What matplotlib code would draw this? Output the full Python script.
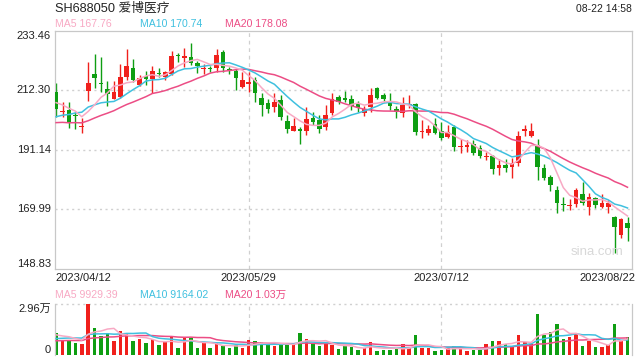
import matplotlib
matplotlib.use("Agg")
import matplotlib.pyplot as plt
import numpy as np
import pandas as pd

# ---------------- data ----------------
dates = ["2023/04/12", "2023/05/29", "2023/07/12", "2023/08/22"]
date_idx = [0, 30, 60, 89]

opens = [211.7, 204.5, 205.2, 203.5, 199.0, 211.9, 218.0, 214.7, 212.7, 209.2,
         209.8, 216.8, 220.1, 214.1, 217.3, 216.2, 218.3, 217.0, 218.1, 224.7,
         223.7, 223.9, 222.0, 219.7, 220.1, 220.2, 225.9, 219.9, 219.1, 213.5,
         214.5, 215.9, 209.3, 207.8, 206.2, 208.7, 201.4, 197.8, 198.3, 197.8,
         202.4, 201.6, 199.0, 204.0, 209.9, 209.5, 209.0, 207.2, 204.0, 206.2,
         212.9, 210.5, 208.2, 205.7, 204.0, 206.8, 207.3, 197.4, 197.1, 200.2,
         197.8, 195.7, 199.3, 191.9, 192.2, 193.1, 191.6, 188.6, 188.8, 184.4,
         185.6, 185.0, 186.5, 197.9, 196.0, 192.7, 184.5, 181.2, 176.7, 171.9,
         170.9, 171.8, 175.3, 170.6, 173.8, 170.6, 170.8, 167.2, 160.7, 165.1]
highs = [214.9, 208.1, 208.1, 204.6, 202.3, 222.2, 225.1, 224.0, 215.5, 215.5,
         221.7, 226.8, 223.3, 217.5, 219.1, 220.7, 220.0, 219.0, 226.3, 225.6,
         227.1, 229.1, 222.6, 221.4, 221.0, 226.8, 226.6, 220.6, 219.7, 218.8,
         218.8, 216.8, 211.1, 209.0, 211.1, 210.5, 203.4, 202.3, 199.3, 206.4,
         204.6, 203.4, 207.0, 211.1, 210.5, 212.1, 210.5, 208.5, 206.6, 212.9,
         213.2, 211.1, 211.1, 206.5, 209.7, 210.5, 207.8, 201.6, 199.9, 202.3,
         200.8, 199.9, 199.9, 194.8, 194.5, 194.5, 192.8, 190.4, 189.2, 187.7,
         187.7, 188.0, 197.8, 199.9, 200.7, 194.8, 186.0, 182.0, 178.2, 174.4,
         173.5, 177.4, 179.6, 175.6, 174.1, 175.3, 173.2, 167.5, 166.7, 167.0]
lows = [202.6, 202.8, 198.9, 198.4, 196.9, 208.5, 213.1, 211.5, 206.7, 209.0,
        209.5, 215.9, 215.3, 213.8, 214.1, 211.1, 217.0, 216.0, 217.6, 222.1,
        220.4, 221.2, 218.2, 218.1, 218.8, 218.8, 218.8, 217.9, 212.3, 213.0,
        211.7, 208.1, 203.1, 204.2, 204.6, 201.6, 196.9, 197.6, 193.1, 196.3,
        199.9, 196.9, 198.1, 203.4, 207.5, 208.1, 205.2, 204.6, 203.1, 204.6,
        209.2, 208.1, 205.2, 202.5, 202.8, 205.8, 196.3, 195.1, 196.3, 196.7,
        194.5, 195.1, 190.7, 190.0, 190.4, 189.2, 188.3, 187.3, 182.4, 182.1,
        183.2, 180.9, 185.3, 195.9, 195.5, 180.3, 180.3, 176.3, 168.5, 169.1,
        169.6, 170.8, 171.4, 167.9, 170.2, 170.2, 168.5, 154.3, 159.6, 158.7]
closes = [205.5, 204.9, 201.0, 203.0, 199.6, 214.9, 216.7, 214.3, 210.9, 211.5,
          216.9, 220.8, 215.9, 216.7, 216.2, 219.1, 217.9, 218.6, 224.4, 224.3,
          224.5, 221.8, 220.9, 220.0, 219.7, 224.7, 220.0, 219.5, 216.7, 215.9,
          215.0, 211.1, 207.0, 205.5, 208.1, 202.8, 198.3, 199.5, 197.9, 201.9,
          201.0, 198.3, 203.4, 209.0, 208.1, 208.6, 206.7, 205.8, 205.4, 210.5,
          209.6, 209.1, 206.6, 204.5, 207.0, 207.2, 197.5, 197.9, 198.3, 197.0,
          195.3, 197.5, 192.1, 192.3, 192.6, 189.8, 188.8, 189.0, 184.1, 185.6,
          184.7, 186.2, 195.9, 198.3, 197.8, 185.0, 181.0, 178.5, 172.0, 171.5,
          171.3, 176.7, 172.2, 174.4, 171.4, 172.2, 172.2, 163.5, 166.3, 163.3]
# closes before the first visible day (only used for the moving averages)
prior_closes = [203.0, 204.0, 202.0, 201.0, 200.0, 197.0, 196.0, 195.0, 194.0, 194.0,
                199.5, 198.5, 197.5, 197.0, 196.5, 208.9, 207.0, 208.0, 209.6]

volumes = [12900, 8700, 8700, 7100, 6400, 29600, 15700, 11200, 12900, 8300,
           13900, 12200, 8300, 9300, 6800, 9100, 6000, 7500, 10600, 4300,
           10200, 10200, 4300, 7100, 4300, 6800, 5200, 4300, 5800, 4300,
           8700, 8100, 7700, 6400, 5200, 6400, 6400, 6400, 12900, 9300,
           6800, 5200, 7700, 5800, 3500, 5200, 4600, 2900, 3900, 7700,
           2500, 2900, 2900, 3500, 6400, 3900, 11600, 3900, 3900, 2300,
           2900, 4100, 5200, 3900, 2300, 2900, 2900, 6400, 8100, 8100,
           6400, 4600, 11600, 7700, 6400, 23800, 11600, 13300, 18000, 9300,
           10400, 12200, 5200, 8100, 4600, 4600, 5800, 18000, 8100, 10400]
prior_volumes = [7000, 7000, 7000, 7000, 7000, 7000, 7000, 7000, 7000, 7000,
                 7000, 7000, 7000, 7000, 9000, 12000, 11000, 12000, 11000]

price_ticks = [148.83, 169.99, 191.14, 212.30, 233.46]
vol_top = 29600
title = "SH688050 爱博医疗"
timestamp = "08-22 14:58"
ma_labels = ["MA5 167.76", "MA10 170.74", "MA20 178.08"]
vol_ma_labels = ["MA5 9929.39", "MA10 9164.02", "MA20 1.03万"]

# ---------------- style ----------------
RED = "#f0201c"
GREEN = "#0e9e12"
C_MA5 = "#f8a9c4"
C_MA10 = "#3fc0df"
C_MA20 = "#ec4d85"
GRID = "#d0d0d0"
TXT = "#222222"
FONT = ["Liberation Sans", "Noto Sans CJK SC", "DejaVu Sans"]
plt.rcParams["font.family"] = FONT
FS = 8.0

n = len(closes)
x = np.arange(n)
o = np.array(opens); h = np.array(highs); l = np.array(lows); c = np.array(closes)
up = c >= o
colors = np.where(up, RED, GREEN)

allc = pd.Series(prior_closes + closes)
ma5 = allc.rolling(5).mean().values[-n:]
ma10 = allc.rolling(10).mean().values[-n:]
ma20 = allc.rolling(20).mean().values[-n:]
allv = pd.Series(prior_volumes + volumes)
vma5 = allv.rolling(5).mean().values[-n:]
vma10 = allv.rolling(10).mean().values[-n:]
vma20 = allv.rolling(20).mean().values[-n:]

W, H = 640, 360
fig = plt.figure(figsize=(6.4, 3.6), dpi=100)
L, R = 55 / W, 632 / W
ax = fig.add_axes([L, 1 - 268.5 / H, R - L, (268.5 - 30.5) / H])
axv = fig.add_axes([L, 1 - 355 / H, R - L, (355 - 304.3) / H])

xlim = (-0.17, n - 1 + 0.7)
for a in (ax, axv):
    a.set_xlim(*xlim)
    a.set_xticks([])
    a.set_yticks([])
    a.set_facecolor("white")
    for i in date_idx[1:3]:
        a.axvline(i, color=GRID, lw=0.9, ls=(0, (3, 3)), zorder=0)

# main pane
ax.set_ylim(price_ticks[0], price_ticks[-1])
for sp in ax.spines.values():
    sp.set_color("#c8c8c8"); sp.set_linewidth(0.9)
for t in price_ticks[1:-1]:
    ax.axhline(t, color=GRID, lw=1.0, ls=(0, (1.5, 2.5)), zorder=0)

ax.vlines(x, l, h, colors=colors, lw=1.0, zorder=2)
body_h = np.maximum(np.abs(c - o), 0.35)
ax.bar(x, body_h, bottom=np.minimum(o, c), width=0.72, color=colors, lw=0, zorder=3)
ax.plot(x, ma20, color=C_MA20, lw=1.1, zorder=4)
ax.plot(x, ma10, color=C_MA10, lw=1.1, zorder=4)
ax.plot(x, ma5, color=C_MA5, lw=1.1, zorder=4)

# y labels main
for k, t in enumerate(price_ticks):
    va = "bottom" if k == 0 else ("top" if k == len(price_ticks) - 1 else "center")
    ax.text(-0.007, t, f"{t:.2f}", transform=ax.get_yaxis_transform(), ha="right",
            va=va, fontsize=FS, color=TXT)

ax.text(0.985, 0.07, "sina.com", transform=ax.transAxes, ha="right", va="center",
        fontsize=9.5, color="#d8d8d8")

# date labels
ypos = 1 - 278 / H
for k, (d, i) in enumerate(zip(dates, date_idx)):
    xf = ax.transData.transform((i, 0))[0] / fig.bbox.width
    if k == 0:
        fig.text(L, ypos, d, ha="left", va="center", fontsize=FS, color=TXT)
    elif k == len(dates) - 1:
        fig.text(R + 3 / W, ypos, d, ha="right", va="center", fontsize=FS, color=TXT)
    else:
        fig.text(xf, ypos, d, ha="center", va="center", fontsize=FS, color=TXT)

# header
fig.text(L, 1 - 8.5 / H, title, ha="left", va="center", fontsize=9.2, color=TXT)
fig.text(R, 1 - 8.5 / H, timestamp, ha="right", va="center", fontsize=7.5, color=TXT)
for lab, col, px in zip(ma_labels, [C_MA5, C_MA10, C_MA20], [55, 140, 225]):
    fig.text(px / W, 1 - 24 / H, lab, ha="left", va="center", fontsize=7.6, color=col)
for lab, col, px in zip(vol_ma_labels, [C_MA5, C_MA10, C_MA20], [55, 140, 225]):
    fig.text(px / W, 1 - 294.5 / H, lab, ha="left", va="center", fontsize=7.6, color=col)

# volume pane
axv.set_ylim(0, vol_top)
for k, sp in axv.spines.items():
    sp.set_color("#c8c8c8"); sp.set_linewidth(0.9)
axv.spines["top"].set_visible(False)
axv.spines["bottom"].set_visible(False)
axv.axhline(vol_top, color=GRID, lw=1.0, ls=(0, (1.5, 2.5)), zorder=0, clip_on=False)
axv.bar(x, volumes, width=0.55, color=colors, lw=0, zorder=2)
axv.plot(x, vma20, color=C_MA20, lw=1.1, zorder=4)
axv.plot(x, vma10, color=C_MA10, lw=1.1, zorder=4)
axv.plot(x, vma5, color=C_MA5, lw=1.1, zorder=4)
axv.text(-0.007, vol_top, "2.96万", transform=axv.get_yaxis_transform(), ha="right",
         va="top", fontsize=FS, color=TXT)
axv.text(-0.007, 0, "0", transform=axv.get_yaxis_transform(), ha="right",
         va="bottom", fontsize=FS, color=TXT)

fig.savefig("out.png", dpi=100)
